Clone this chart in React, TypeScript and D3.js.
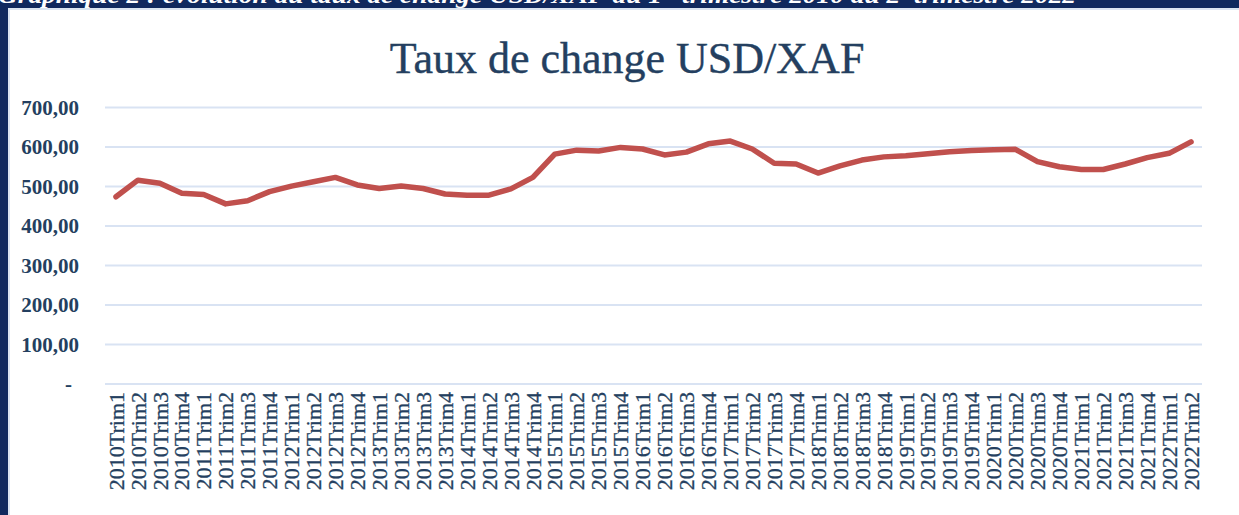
import React from "react";
import * as d3 from "d3";

const years = ["2010","2011","2012","2013","2014","2015","2016","2017","2018","2019","2020","2021","2022"];
const categories: string[] = [];
years.forEach((y) => {
  for (let q = 1; q <= 4; q++) {
    if (y === "2022" && q > 2) break;
    categories.push(`${y}Trim${q}`);
  }
});

const rates = [
  474, 516, 508, 483, 480, 456, 464, 487,
  501, 512, 523, 504, 495, 501, 495, 481,
  478, 478, 494, 523, 582, 592, 590, 599,
  595, 580, 587, 608, 615, 595, 559, 557,
  534, 552, 567, 575, 578, 583, 588, 591,
  593, 594, 563, 550, 543, 543, 557, 573,
  584, 613,
];

const yTicks = [0, 100, 200, 300, 400, 500, 600, 700];

const W = 1239;
const H = 515;
const serif = "'Liberation Serif', 'Times New Roman', serif";
const navy = "#10295e";
const textColor = "#243f60";

export default function App() {
  const x = d3.scaleBand<string>().domain(categories).range([105, 1202]);
  const y = d3.scaleLinear().domain([0, 700]).range([384, 107.5]);
  const cx = (c: string) => (x(c) as number) + x.bandwidth() / 2;
  const line = d3
    .line<number>()
    .x((_, i) => cx(categories[i]))
    .y((d) => y(d));
  const fmt = (v: number) => (v === 0 ? "-" : d3.format(".2f")(v).replace(".", ","));

  return (
    <svg
      width={W}
      height={H}
      style={{ position: "absolute", left: 0, top: 0, background: "#fff" }}
    >
      {/* frame */}
      <rect x={0} y={0} width={W} height={8} fill={navy} />
      <rect x={0} y={0} width={8} height={H} fill={navy} />
      <rect x={8} y={8} width={W - 8} height={2} fill="#dbe5f1" />
      <rect x={8} y={8} width={2} height={H - 8} fill="#dbe5f1" />
      <text
        x={-2}
        y={3}
        fill="#fff"
        fontFamily={serif}
        fontStyle="italic"
        fontWeight="bold"
        fontSize={24}
        textLength={1078}
        lengthAdjust="spacingAndGlyphs"
      >
        Graphique 2 : évolution du taux de change USD/XAF du 1
        <tspan fontSize={14} dy={-8}>er</tspan>
        <tspan dy={8}> trimestre 2010 au 2</tspan>
        <tspan fontSize={14} dy={-8}>e</tspan>
        <tspan dy={8}> trimestre 2022</tspan>
      </text>

      {/* title */}
      <text
        x={627}
        y={73}
        textAnchor="middle"
        fill={textColor}
        fontFamily={serif}
        fontSize={44}
        stroke={textColor}
        strokeWidth={0.4}
      >
        Taux de change USD/XAF
      </text>

      {/* grid */}
      {yTicks.map((t) => (
        <line
          key={t}
          x1={105}
          x2={1202}
          y1={y(t)}
          y2={y(t)}
          stroke="#d9e3f3"
          strokeWidth={2}
        />
      ))}

      {/* y labels */}
      {yTicks.map((t) => (
        <text
          key={"l" + t}
          x={t === 0 ? 72 : 79}
          y={y(t)}
          dy="0.35em"
          textAnchor="end"
          fill={textColor}
          fontFamily={serif}
          fontWeight="bold"
          fontSize={21}
        >
          {fmt(t)}
        </text>
      ))}

      {/* x labels */}
      {categories.map((c) => (
        <text
          key={c}
          transform={`translate(${cx(c)},392) rotate(-90)`}
          dy="0.35em"
          textAnchor="end"
          fill={textColor}
          fontFamily={serif}
          fontSize={22}
          stroke={textColor}
          strokeWidth={0.3}
        >
          {c}
        </text>
      ))}

      {/* line */}
      <path
        d={line(rates) || ""}
        fill="none"
        stroke="#c0504d"
        strokeWidth={5.5}
        strokeLinejoin="round"
        strokeLinecap="round"
      />
    </svg>
  );
}
